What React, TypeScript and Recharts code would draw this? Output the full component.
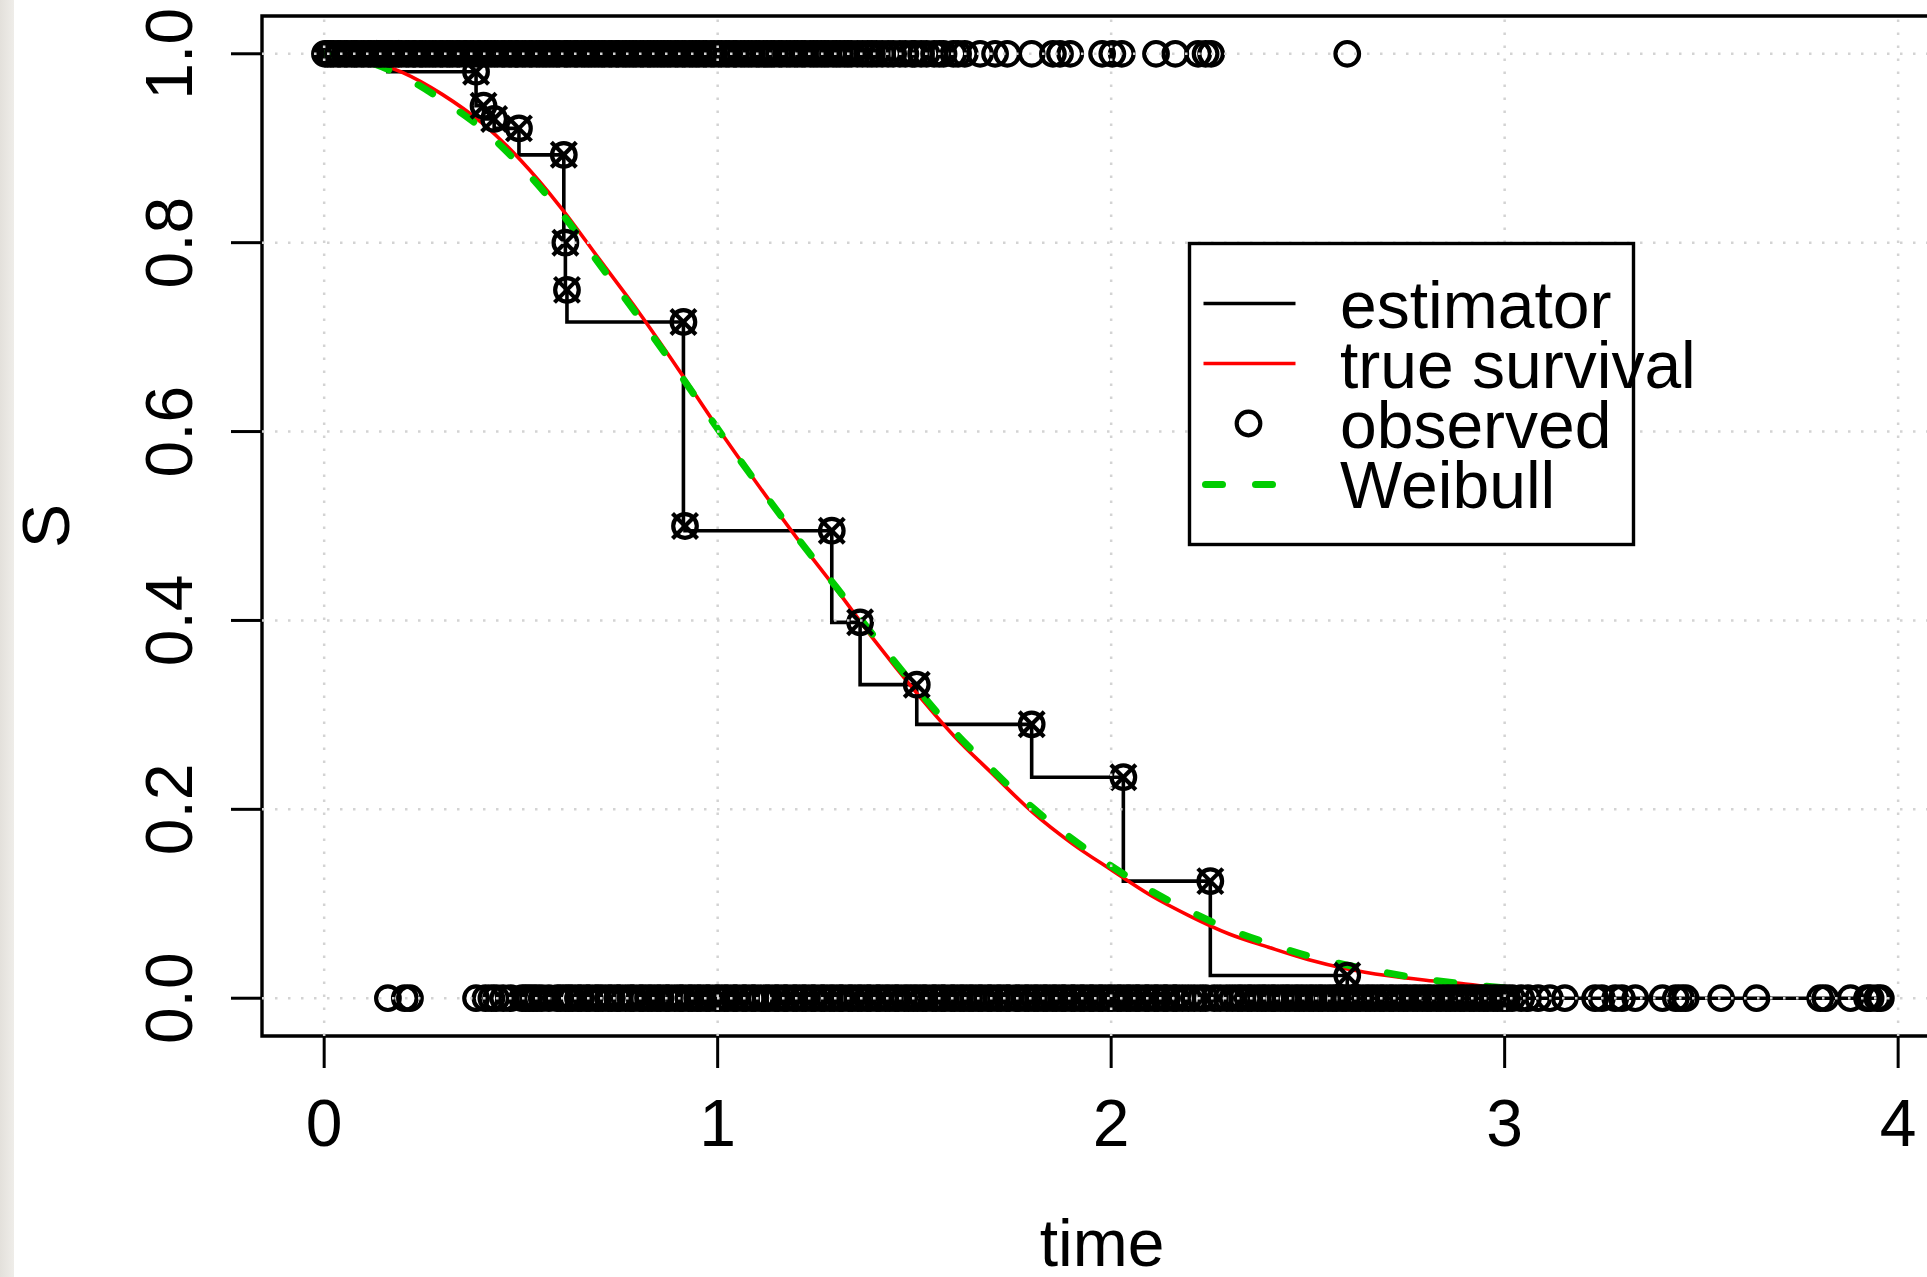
// Survival curve comparison: step estimator vs true survival vs Weibull fit,
// with observed event / censoring times drawn as open circles on y = 1 and y = 0.

import {
  ComposedChart,
  Line,
  Scatter,
  XAxis,
  YAxis,
  ReferenceLine,
  ReferenceArea,
  Legend,
} from 'recharts';

// step estimator: jump times and survival just after each jump
const estTimes = [0, 0.162, 0.386, 0.405, 0.432, 0.495, 0.609, 0.613, 0.617, 0.913, 0.917, 1.29, 1.362, 1.506, 1.798, 2.031, 2.252, 2.6, 3.956];
const estSurv = [1, 0.981, 0.945, 0.931, 0.921, 0.893, 0.8, 0.75, 0.716, 0.5, 0.495, 0.398, 0.332, 0.29, 0.234, 0.124, 0.024, 0, 0];

// smooth curves
const curveTimes = [0, 0.1, 0.2, 0.3, 0.4, 0.5, 0.6, 0.7, 0.8, 0.9, 1.0, 1.1, 1.2, 1.3, 1.4, 1.5, 1.6, 1.7, 1.8, 1.9, 2.0, 2.1, 2.2, 2.3, 2.4, 2.5, 2.6, 2.7, 2.8, 2.9, 3.0];
const trueSurv = [1.0, 0.994, 0.98, 0.957, 0.927, 0.887, 0.838, 0.782, 0.726, 0.666, 0.604, 0.545, 0.488, 0.434, 0.378, 0.326, 0.278, 0.237, 0.197, 0.164, 0.136, 0.109, 0.087, 0.068, 0.054, 0.041, 0.031, 0.024, 0.019, 0.015, 0.01];
const weibullSurv = [1.0, 0.993, 0.976, 0.951, 0.921, 0.881, 0.833, 0.777, 0.721, 0.663, 0.603, 0.545, 0.489, 0.436, 0.382, 0.331, 0.283, 0.241, 0.202, 0.169, 0.14, 0.114, 0.092, 0.073, 0.058, 0.045, 0.035, 0.027, 0.02, 0.015, 0.011];

// observed times plotted at S = 1
const obsTop = [
  0.002, 0.009, 0.017, 0.024, 0.035, 0.041, 0.052, 0.058, 0.069, 0.077, 0.083, 0.094, 0.101, 0.112, 0.118, 0.127,
  0.138, 0.144, 0.153, 0.166, 0.171, 0.182, 0.189, 0.197, 0.208, 0.215, 0.226, 0.231, 0.243, 0.249, 0.258, 0.267,
  0.276, 0.284, 0.295, 0.301, 0.312, 0.319, 0.327, 0.338, 0.344, 0.356, 0.361, 0.372, 0.379, 0.391, 0.397, 0.408,
  0.415, 0.424, 0.433, 0.441, 0.452, 0.458, 0.469, 0.476, 0.487, 0.492, 0.503, 0.511, 0.522, 0.528, 0.539, 0.547,
  0.556, 0.564, 0.573, 0.582, 0.591, 0.598, 0.611, 0.617, 0.626, 0.637, 0.643, 0.654, 0.662, 0.671, 0.679, 0.688,
  0.697, 0.706, 0.713, 0.724, 0.731, 0.742, 0.748, 0.759, 0.767, 0.776, 0.785, 0.793, 0.804, 0.811, 0.822, 0.829,
  0.838, 0.847, 0.856, 0.864, 0.873, 0.881, 0.892, 0.899, 0.91, 0.917, 0.928,
  0.936, 0.945, 0.953, 0.964, 0.971, 0.983, 0.991, 1.002, 1.01, 1.021, 1.029, 1.041, 1.047, 1.059, 1.068, 1.078,
  1.087, 1.098, 1.105, 1.117, 1.126, 1.136, 1.144, 1.156, 1.163, 1.175, 1.184, 1.195, 1.203, 1.214, 1.222, 1.235,
  1.244, 1.253, 1.263, 1.272, 1.281, 1.293, 1.302, 1.311, 1.322, 1.331, 1.34,
  1.355, 1.368, 1.381, 1.392, 1.404, 1.418, 1.433, 1.446, 1.463, 1.477, 1.494, 1.501, 1.517, 1.531, 1.55, 1.563,
  1.574, 1.599, 1.611, 1.628,
  1.667, 1.705, 1.736, 1.798, 1.852, 1.87, 1.896, 1.977, 2.003, 2.027, 2.114, 2.163, 2.221, 2.24, 2.254, 2.6,
];

// observed times plotted at S = 0
const obsBottom = [
  0.162, 0.205, 0.218,
  0.386, 0.41, 0.425, 0.437, 0.455, 0.474, 0.503, 0.512, 0.521, 0.531, 0.541, 0.553, 0.571,
  0.592, 0.601, 0.613, 0.622, 0.631, 0.645, 0.653, 0.667, 0.674, 0.689, 0.697, 0.708, 0.722, 0.731, 0.745, 0.751,
  0.766, 0.779, 0.786, 0.802, 0.81, 0.823, 0.833, 0.846, 0.855, 0.869, 0.876, 0.891, 0.904, 0.911, 0.926, 0.935,
  0.948, 0.957, 0.971, 0.979, 0.995, 1.004, 1.017, 1.026, 1.041, 1.048, 1.064, 1.072, 1.087, 1.095, 1.11, 1.122,
  1.131, 1.146, 1.154, 1.169, 1.176, 1.192, 1.201, 1.215, 1.224, 1.239, 1.247, 1.263, 1.271, 1.285, 1.296, 1.31,
  1.317, 1.333, 1.342, 1.356, 1.366, 1.38, 1.388, 1.404, 1.412, 1.426, 1.437, 1.451, 1.459, 1.474, 1.485, 1.497,
  1.508, 1.521, 1.53, 1.546, 1.555, 1.569, 1.577, 1.593, 1.602, 1.616, 1.626, 1.639, 1.649, 1.663, 1.672, 1.687,
  1.695, 1.71, 1.72, 1.734, 1.742, 1.758, 1.766, 1.781, 1.79, 1.804, 1.814, 1.828, 1.837, 1.851, 1.861, 1.875,
  1.883, 1.899, 1.907, 1.922, 1.931, 1.946, 1.954, 1.969, 1.978, 1.992, 2.002, 2.016, 2.025, 2.039, 2.049, 2.063,
  2.071, 2.087, 2.095, 2.11, 2.119, 2.134, 2.142, 2.158, 2.166, 2.181, 2.196, 2.211, 2.227, 2.24, 2.262, 2.277,
  2.294, 2.308, 2.322, 2.333, 2.347, 2.357, 2.371, 2.383, 2.393, 2.407, 2.417, 2.431, 2.443, 2.453, 2.467, 2.478,
  2.49, 2.503, 2.514, 2.527, 2.537, 2.551, 2.563, 2.573, 2.587, 2.597, 2.611, 2.622, 2.633, 2.647, 2.658, 2.67,
  2.683, 2.693, 2.707, 2.717, 2.731, 2.743, 2.753, 2.767, 2.778, 2.791, 2.803, 2.813, 2.827, 2.838, 2.851, 2.862,
  2.874, 2.887, 2.897, 2.911, 2.922, 2.935, 2.947, 2.957, 2.971, 2.982, 2.995, 3.006, 3.019,
  3.042, 3.059, 3.085, 3.115, 3.153, 3.23, 3.247, 3.281, 3.298, 3.332, 3.401, 3.435, 3.448, 3.46, 3.55, 3.64,
  3.802, 3.815, 3.879, 3.921, 3.93, 3.947, 3.956,
];

const xTicks = [0, 1, 2, 3, 4];
const yTicks = [0, 0.2, 0.4, 0.6, 0.8, 1.0];
const legendLabels = ['estimator', 'true survival', 'observed', 'Weibull'];

const FONT = '"Liberation Sans", Arial, Helvetica, sans-serif';
const GREEN = '#00cd00';
const MARK_W = 4.2;
const LINE_W = 3.6;

const estData = estTimes.map((t, i) => ({ t, s: estSurv[i] }));
// cross-circle marks sit at each jump, at the level just before the drop
const jumpData = estTimes.slice(1, -1).map((t, i) => ({ t, s: estSurv[i] }));
const trueData = curveTimes.map((t, i) => ({ t, s: trueSurv[i] }));
const weibullData = curveTimes.map((t, i) => ({ t, s: weibullSurv[i] }));
const topData = obsTop.map((t) => ({ t, s: 1 }));
const bottomData = obsBottom.map((t) => ({ t, s: 0 }));

const OpenCircle = (props: any) => (
  <circle cx={props.cx} cy={props.cy} r={11.8} fill="none" stroke="#000" strokeWidth={MARK_W} />
);

const CrossCircle = (props: any) => {
  const { cx, cy } = props;
  const d = 12.5;
  return (
    <g stroke="#000" strokeWidth={MARK_W} fill="none">
      <circle cx={cx} cy={cy} r={11.8} />
      <line x1={cx - d} y1={cy - d} x2={cx + d} y2={cy + d} />
      <line x1={cx - d} y1={cy + d} x2={cx + d} y2={cy - d} />
    </g>
  );
};

const XTick = (props: any) => (
  <text x={props.x} y={1146} textAnchor="middle" fontSize={66} fontFamily={FONT} fill="#000">
    {props.payload.value}
  </text>
);

const YTick = (props: any) => (
  <text
    x={192}
    y={props.y}
    transform={`rotate(-90, 192, ${props.y})`}
    textAnchor="middle"
    fontSize={66}
    fontFamily={FONT}
    fill="#000"
  >
    {Number(props.payload.value).toFixed(1)}
  </text>
);

const LegendBox = () => (
  <svg width={540} height={310} style={{ overflow: 'visible', display: 'block' }}>
    <rect x={1.5} y={1.5} width={444} height={301} fill="#fff" stroke="#000" strokeWidth={3.4} />
    <line x1={15.5} y1={61.5} x2={107.5} y2={61.5} stroke="#000" strokeWidth={LINE_W} />
    <line x1={15.5} y1={121.5} x2={107.5} y2={121.5} stroke="#ff0000" strokeWidth={LINE_W} />
    <circle cx={60.5} cy={181.5} r={11.8} fill="none" stroke="#000" strokeWidth={MARK_W} />
    <line x1={17.5} y1={242.5} x2={107.5} y2={242.5} stroke={GREEN} strokeWidth={7}
      strokeDasharray="17 33" strokeLinecap="round" />
    {legendLabels.map((label, i) => (
      <text key={label} x={152} y={85.5 + i * 60} fontSize={66} fontFamily={FONT} fill="#000">
        {label}
      </text>
    ))}
  </svg>
);

export default function App() {
  return (
    <div style={{ position: 'absolute', left: 0, top: 0, width: 1927, height: 1277, overflow: 'hidden', background: '#fff' }}>
      <div style={{ position: 'absolute', left: 0, top: 0, width: 14, height: 1277, background: 'linear-gradient(to right, #e3e0db, #efede9)' }} />
      <div style={{ position: 'absolute', left: 0, top: 0 }}>
        <ComposedChart width={1990} height={1277} margin={{ top: 16, right: 47, bottom: 181, left: 202 }}>
          <XAxis
            type="number"
            dataKey="t"
            domain={[-0.158, 4.114]}
            ticks={xTicks}
            allowDataOverflow
            axisLine={false}
            tickSize={32}
            tickLine={{ stroke: '#000', strokeWidth: 3 }}
            tick={<XTick />}
            height={60}
            label={() => (
              <text x={1102} y={1266} textAnchor="middle" fontSize={66} fontFamily={FONT} fill="#000">time</text>
            )}
          />
          <YAxis
            type="number"
            dataKey="s"
            domain={[-0.04, 1.04]}
            ticks={yTicks}
            allowDataOverflow
            axisLine={false}
            width={60}
            tickSize={31}
            tickLine={{ stroke: '#000', strokeWidth: 3 }}
            tick={<YTick />}
            label={() => (
              <text x={69} y={526} transform="rotate(-90, 69, 526)" textAnchor="middle" fontSize={66} fontFamily={FONT} fill="#000">S</text>
            )}
          />

          <Scatter data={topData} shape={OpenCircle} isAnimationActive={false} legendType="none" />
          <Scatter data={bottomData} shape={OpenCircle} isAnimationActive={false} legendType="none" />
          <Line data={estData} dataKey="s" type="stepAfter" stroke="#000" strokeWidth={LINE_W} dot={false}
            isAnimationActive={false} legendType="none" />
          <Scatter data={jumpData} shape={CrossCircle} isAnimationActive={false} legendType="none" />
          <Line data={trueData} dataKey="s" type="monotone" stroke="#ff0000" strokeWidth={LINE_W} dot={false}
            isAnimationActive={false} legendType="none" />
          <Line data={weibullData} dataKey="s" type="monotone" stroke={GREEN} strokeWidth={7}
            strokeDasharray="17 33" strokeLinecap="round" dot={false} isAnimationActive={false} legendType="none" />

          {xTicks.map((v) => (
            <ReferenceLine key={`gx${v}`} x={v} stroke="#d3d3d3" strokeWidth={2.5} strokeDasharray="2.5 10.5" zIndex={1500} />
          ))}
          {yTicks.map((v) => (
            <ReferenceLine key={`gy${v}`} y={v} stroke="#d3d3d3" strokeWidth={2.5} strokeDasharray="2.5 10.5" zIndex={1500} />
          ))}

          <ReferenceArea x1={-0.158} x2={4.114} y1={-0.04} y2={1.04} fill="none" fillOpacity={0}
            stroke="#000" strokeWidth={3.4} />

          <Legend
            layout="vertical"
            align="center"
            verticalAlign="middle"
            content={() => <LegendBox />}
            wrapperStyle={{ position: 'absolute', left: 1187.5, top: 241.5, width: 540, height: 310 }}
          />
        </ComposedChart>
      </div>
    </div>
  );
}
